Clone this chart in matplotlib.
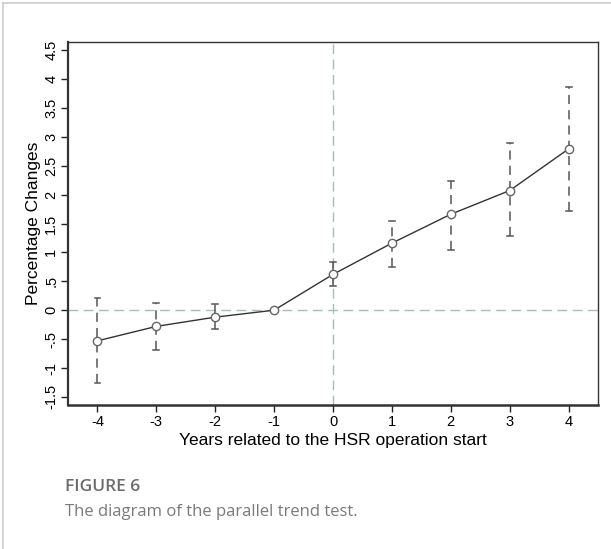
import matplotlib
matplotlib.use("Agg")
import matplotlib.pyplot as plt
from matplotlib.lines import Line2D

years = [-4, -3, -2, -1, 0, 1, 2, 3, 4]
coef = [-0.53, -0.28, -0.12, 0.0, 0.62, 1.16, 1.66, 2.07, 2.79]
ci_low = [-1.26, -0.68, -0.32, None, 0.42, 0.75, 1.05, 1.28, 1.71]
ci_high = [0.21, 0.12, 0.10, None, 0.83, 1.55, 2.23, 2.89, 3.87]
yticks = [-1.5, -1, -0.5, 0, 0.5, 1, 1.5, 2, 2.5, 3, 3.5, 4, 4.5]
ytick_labels = ["-1.5", "-1", "-.5", "0", ".5", "1", "1.5", "2", "2.5", "3", "3.5", "4", "4.5"]

plt.rcParams['font.family'] = ['Liberation Sans', 'DejaVu Sans']
fig = plt.figure(figsize=(6.11, 5.49), dpi=100)
ax = fig.add_axes([68/611, 1-405/549, (598-68)/611, (405-42)/549])

ref_color = '#a3bfb8'
ax.axhline(0, color=ref_color, lw=1.0, ls=(0, (7, 4)), zorder=1)
ax.axvline(0, color=ref_color, lw=1.0, ls=(0, (7, 4)), zorder=1)

err_color = '#555555'
for x, lo, hi in zip(years, ci_low, ci_high):
    if lo is None:
        continue
    ax.plot([x, x], [lo, hi], color=err_color, lw=1.1, ls=(0, (6, 4)), zorder=2)
    ax.plot([x - 0.05, x + 0.05], [lo, lo], color=err_color, lw=1.1, zorder=2)
    ax.plot([x - 0.05, x + 0.05], [hi, hi], color=err_color, lw=1.1, zorder=2)

ax.plot(years, coef, color='#333333', lw=1.0, zorder=3)
ax.plot(years, coef, ls='none', marker='o', ms=6, mfc='white', mec='#666666', mew=1.0, zorder=4)

ax.set_xlim(-4.5, 4.5)
ax.set_ylim(-1.64, 4.64)
ax.set_xticks(years)
ax.set_xticklabels([str(y) for y in years], fontsize=10.5)
ax.set_yticks(yticks)
ax.set_yticklabels(ytick_labels, fontsize=10.5, rotation=90, va='center')
ax.tick_params(direction='out', length=5, width=1, color='#222222', pad=2)
for s in ax.spines.values():
    s.set_color('#333333')
    s.set_linewidth(1.0)
ax.spines['left'].set_linewidth(1.6)
ax.spines['bottom'].set_linewidth(1.8)

ax.set_xlabel("Years related to the HSR operation start", fontsize=12.5, labelpad=3)
ax.set_ylabel("Percentage Changes", fontsize=12.5, labelpad=2)

# page border (top and left)
fig.add_artist(Line2D([3/611, 1], [1-3/549, 1-3/549], color='#cccccc', lw=1.2, transform=fig.transFigure))
fig.add_artist(Line2D([3/611, 3/611], [0, 1-3/549], color='#cccccc', lw=1.2, transform=fig.transFigure))

fig.text(65/611, 1-487/549, "FIGURE 6", fontsize=12.5, color='#6b6b6b', fontweight='semibold',
         family=['Open Sans', 'DejaVu Sans'], va='center', ha='left')
fig.text(65/611, 1-512/549, "The diagram of the parallel trend test.", fontsize=12, color='#7a7a7a',
         family=['Open Sans', 'DejaVu Sans'], va='center', ha='left')

fig.savefig("out.png", dpi=100)
